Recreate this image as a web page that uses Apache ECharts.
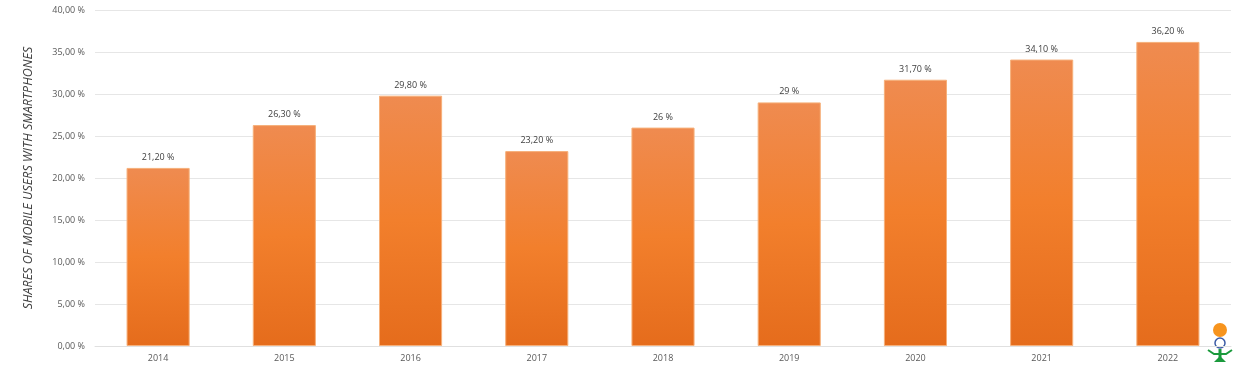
<!DOCTYPE html>
<html>
<head>
<meta charset="utf-8">
<script src="https://cdn.jsdelivr.net/npm/echarts@6/dist/echarts.min.js"></script>
<style>html,body{margin:0;padding:0;background:#fff;}#c{width:1250px;height:375px;}</style>
</head>
<body>
<div id="c"></div>
<script>
const categories = ['2014','2015','2016','2017','2018','2019','2020','2021','2022'];
const shares = [21.2, 26.3, 29.8, 23.2, 26, 29, 31.7, 34.1, 36.2];
const axisTitle = 'SHARES OF MOBILE USERS WITH SMARTPHONES';

function fmtLabel(v){
  if (Number.isInteger(v)) return v + ' %';
  return v.toFixed(2).replace('.', ',') + ' %';
}
const chart = echarts.init(document.getElementById('c'));
chart.setOption({
  animation: false,
  textStyle: { fontFamily: 'Open Sans, Liberation Sans, sans-serif' },
  grid: { left: 95, right: 19, top: 10, bottom: 29, containLabel: false },
  xAxis: {
    type: 'category',
    data: categories,
    axisLine: { lineStyle: { color: '#e0e0e0' } },
    axisTick: { show: false },
    axisLabel: { color: '#595959', fontSize: 9, margin: 8 }
  },
  yAxis: {
    type: 'value',
    min: 0, max: 40, interval: 5,
    name: axisTitle,
    nameLocation: 'middle',
    nameGap: 60,
    nameTextStyle: { color: '#404040', fontSize: 12.5, fontStyle: 'italic', fontFamily: 'Open Sans' },
    axisLine: { show: false },
    axisTick: { show: false },
    splitLine: { lineStyle: { color: '#e6e6e6', width: 1 } },
    axisLabel: {
      color: '#595959', fontSize: 9, margin: 10,
      formatter: v => v.toFixed(2).replace('.', ',') + ' %'
    }
  },
  series: [{
    type: 'bar',
    data: shares,
    barWidth: '50%',
    itemStyle: {
      color: new echarts.graphic.LinearGradient(0, 0, 0, 1, [
        { offset: 0, color: '#ef8b50' },
        { offset: 0.5, color: '#f27f2c' },
        { offset: 1, color: '#e56c1c' }
      ]),
      borderColor: '#f6b07a',
      borderWidth: 1
    },
    label: {
      show: true, position: 'top', distance: 6,
      color: '#404040', fontSize: 9,
      formatter: p => fmtLabel(p.value)
    }
  }],
  graphic: [
    { type: 'circle', shape: { cx: 1220, cy: 330, r: 7 }, style: { fill: '#f7941d' } },
    { type: 'circle', shape: { cx: 1220, cy: 343, r: 5 }, style: { fill: '#fff', stroke: '#3b5ba5', lineWidth: 1.5 } },
    { type: 'polyline', shape: { points: [[1208, 350], [1214, 354], [1226, 354], [1232, 350]] }, style: { stroke: '#1a9a3c', lineWidth: 2, fill: 'none' } },
    { type: 'rect', shape: { x: 1218.5, y: 349, width: 3, height: 12 }, style: { fill: '#1a9a3c' } },
    { type: 'polygon', shape: { points: [[1214, 362], [1220, 356], [1226, 362]] }, style: { fill: '#1a9a3c' } }
  ]
});
</script>
</body>
</html>
